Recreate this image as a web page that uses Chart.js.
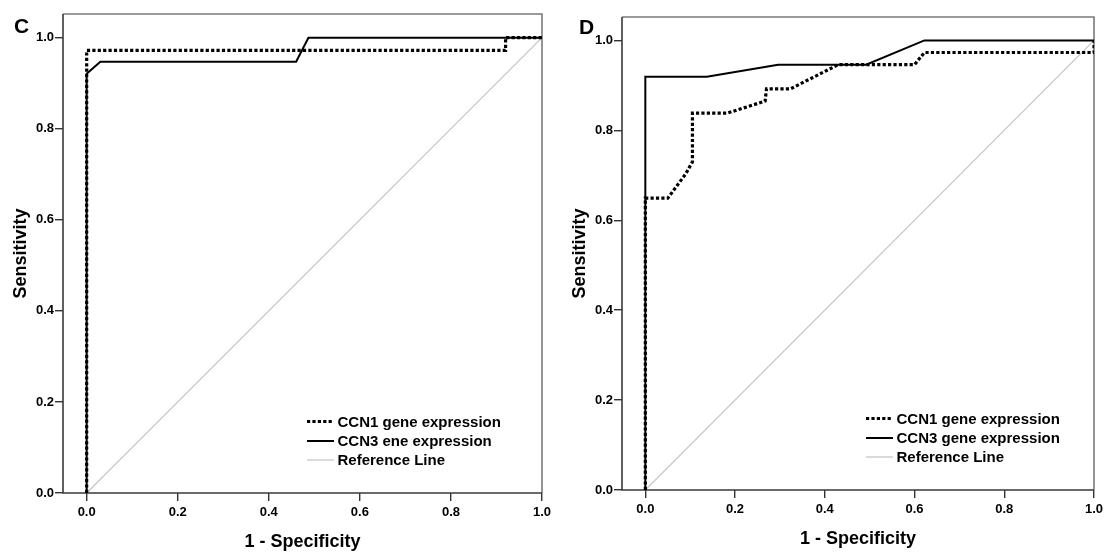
<!DOCTYPE html>
<html><head><meta charset="utf-8">
<script src="https://cdn.jsdelivr.net/npm/chart.js@4.4.1/dist/chart.umd.min.js"></script>
<style>
html,body{margin:0;padding:0;background:#fff;}
#wrap{position:relative;width:1104px;height:553px;overflow:hidden;}
canvas{position:absolute;top:0;}
</style></head><body>
<div id="wrap">
<canvas id="cC" width="580" height="553" style="left:0px"></canvas>
<canvas id="cD" width="580" height="553" style="left:552px"></canvas>
</div>
<script>
// ---- data ----
const tickValues = [0, 0.2, 0.4, 0.6, 0.8, 1.0];

const panelC_labels = ['CCN1 gene expression', 'CCN3 ene expression', 'Reference Line'];
const panelC_ccn1_x = [0, 0, 0.92, 0.92, 1];
const panelC_ccn1_y = [0, 0.972, 0.972, 1, 1];
const panelC_ccn3_x = [0, 0, 0.03, 0.46, 0.487, 1];
const panelC_ccn3_y = [0, 0.921, 0.947, 0.947, 1, 1];

const panelD_labels = ['CCN1 gene expression', 'CCN3 gene expression', 'Reference Line'];
const panelD_ccn1_x = [0, 0, 0.05, 0.07, 0.09, 0.105, 0.105, 0.182, 0.267, 0.27, 0.323, 0.43, 0.6, 0.622, 1, 1];
const panelD_ccn1_y = [0, 0.649, 0.649, 0.676, 0.703, 0.730, 0.838, 0.838, 0.865, 0.892, 0.892, 0.946, 0.946, 0.973, 0.973, 1];
const panelD_ccn3_x = [0, 0, 0.137, 0.296, 0.492, 0.622, 1];
const panelD_ccn3_y = [0, 0.919, 0.919, 0.946, 0.946, 1, 1];

const reference_x = [0, 1];
const reference_y = [0, 1];

// ---- helpers ----
const FONT = '"Liberation Sans", Arial, sans-serif';
const pts = (xs, ys) => xs.map((x, i) => ({x: x, y: ys[i]}));

const panelPlugin = {
  id: 'panelDeco',
  beforeDatasetsDraw(chart, args, opts) {
    const {ctx, chartArea: a} = chart;
    ctx.save();
    ctx.lineWidth = 1.6;
    ctx.strokeStyle = '#7a7a7a';
    ctx.beginPath();
    ctx.moveTo(a.left, a.top); ctx.lineTo(a.right, a.top); ctx.lineTo(a.right, a.bottom);
    ctx.stroke();
    ctx.strokeStyle = '#3a3a3a';
    ctx.beginPath();
    ctx.moveTo(a.left, a.top); ctx.lineTo(a.left, a.bottom); ctx.lineTo(a.right, a.bottom);
    ctx.stroke();
    ctx.restore();
  },
  afterDraw(chart, args, opts) {
    const {ctx, chartArea: a} = chart;
    ctx.save();
    // legend inside plot area, bottom right
    const rowY = [-71.5, -52, -33];
    chart.data.datasets.forEach((ds, i) => {
      const y = a.bottom + rowY[i];
      ctx.strokeStyle = ds.borderColor;
      ctx.lineWidth = ds.borderWidth;
      ctx.setLineDash(ds.borderDash || []);
      ctx.beginPath();
      ctx.moveTo(a.left + 244, y); ctx.lineTo(a.left + 271, y);
      ctx.stroke();
      ctx.setLineDash([]);
      ctx.fillStyle = '#000';
      ctx.font = 'bold 15px ' + FONT;
      ctx.textAlign = 'left';
      ctx.textBaseline = 'middle';
      ctx.fillText(ds.label, a.left + 274.5, y + 1);
    });
    // panel letter
    ctx.fillStyle = '#000';
    ctx.font = 'bold 21px ' + FONT;
    ctx.textAlign = 'left';
    ctx.textBaseline = 'alphabetic';
    ctx.fillText(opts.letter, opts.lx, opts.ly);
    ctx.restore();
  }
};

function makeChart(id, labels, c1x, c1y, c3x, c3y, geo) {
  const tickFont = {family: FONT, size: 13, weight: 'bold'};
  const titleFont = {family: FONT, size: 18, weight: 'bold'};
  return new Chart(document.getElementById(id), {
    type: 'line',
    data: {
      datasets: [
        {label: labels[0], data: pts(c1x, c1y), borderColor: '#000', borderWidth: 3.2, borderDash: [3.2, 2.2], borderCapStyle: 'butt', pointRadius: 0, tension: 0},
        {label: labels[1], data: pts(c3x, c3y), borderColor: '#000', borderWidth: 2, pointRadius: 0, tension: 0},
        {label: labels[2], data: pts(reference_x, reference_y), borderColor: '#c8c8c8', borderWidth: 1.3, pointRadius: 0, tension: 0}
      ]
    },
    options: {
      responsive: false,
      devicePixelRatio: 1,
      animation: false,
      layout: {padding: {left: 0, right: geo.right, top: geo.top, bottom: 0}},
      plugins: {
        legend: {display: false},
        tooltip: {enabled: false},
        panelDeco: {letter: geo.letter, lx: geo.lx, ly: geo.ly}
      },
      scales: {
        x: {
          type: 'linear', min: -0.052, max: 1.0,
          afterBuildTicks: ax => { ax.ticks = tickValues.map(v => ({value: v})); },
          afterFit: ax => { ax.height = geo.xh; },
          border: {display: false},
          grid: {drawOnChartArea: false, drawTicks: true, tickLength: 8, color: '#333', lineWidth: 1.4},
          ticks: {color: '#000', font: tickFont, padding: 4, maxRotation: 0, autoSkip: false, callback: v => Number(v).toFixed(1)},
          title: {display: true, text: '1 - Specificity', color: '#000', font: titleFont, padding: {top: 0, bottom: geo.xtp}}
        },
        y: {
          type: 'linear', min: 0, max: 1.052,
          afterBuildTicks: ax => { ax.ticks = tickValues.map(v => ({value: v})); },
          afterFit: ax => { ax.width = geo.yw; },
          border: {display: false},
          grid: {drawOnChartArea: false, drawTicks: true, tickLength: 8, color: '#333', lineWidth: 1.4},
          ticks: {color: '#000', font: tickFont, padding: 1, autoSkip: false, callback: v => Number(v).toFixed(1)},
          title: {display: true, text: 'Sensitivity', color: '#000', font: titleFont, padding: {top: geo.ytp, bottom: 0}}
        }
      }
    },
    plugins: [panelPlugin]
  });
}

makeChart('cC', panelC_labels, panelC_ccn1_x, panelC_ccn1_y, panelC_ccn3_x, panelC_ccn3_y,
  {top: 14, right: 38, xh: 60, yw: 63, xtp: 0, ytp: 10, letter: 'C', lx: 14, ly: 33});
makeChart('cD', panelD_labels, panelD_ccn1_x, panelD_ccn1_y, panelD_ccn3_x, panelD_ccn3_y,
  {top: 17, right: 38, xh: 63, yw: 70, xtp: 3, ytp: 17, letter: 'D', lx: 27, ly: 34});
</script>
</body></html>
